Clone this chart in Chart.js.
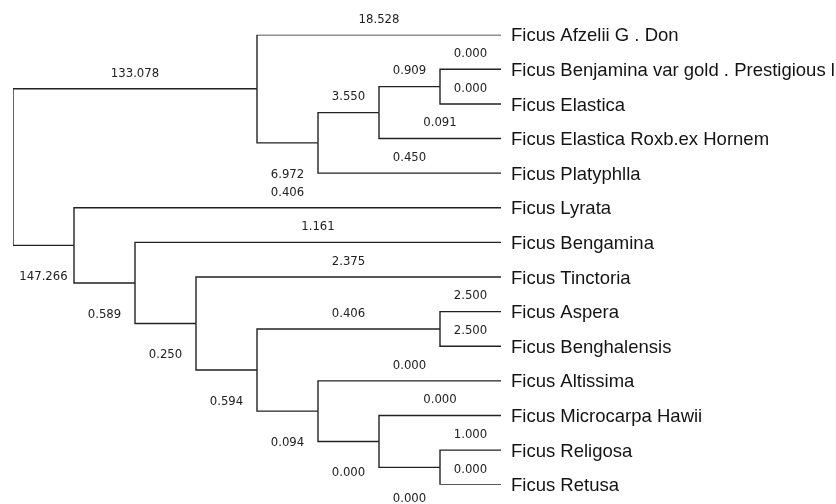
<!DOCTYPE html>
<html>
<head>
<meta charset="utf-8">
<title>Ficus dendrogram</title>
<script src="https://cdn.jsdelivr.net/npm/chart.js@4/dist/chart.umd.min.js"></script>
<style>
  html, body { margin: 0; padding: 0; background: #ffffff; }
  #wrap { width: 836px; height: 504px; position: relative; }
</style>
</head>
<body>
<div id="wrap"><canvas id="tree"></canvas></div>
<script>
// Taxa, top to bottom
const leafNames = [
  'Ficus Afzelii G . Don',
  'Ficus Benjamina var gold . Prestigious l',
  'Ficus Elastica',
  'Ficus Elastica Roxb.ex Hornem',
  'Ficus Platyphlla',
  'Ficus Lyrata',
  'Ficus Bengamina',
  'Ficus Tinctoria',
  'Ficus Aspera',
  'Ficus Benghalensis',
  'Ficus Altissima',
  'Ficus Microcarpa Hawii',
  'Ficus Religosa',
  'Ficus Retusa'
];

// Clades: each joins an upper and a lower child (leaves are 'L' + index)
const cladeIds    = ['R',  'A',  'B',  'C',  'D',  'E',  'F',  'G',  'H',  'I',  'J',   'K',   'M'];
const cladeUpper  = ['A',  'L0', 'C',  'D',  'L1', 'L5', 'L6', 'L7', 'I',  'L8', 'L10', 'L11', 'L12'];
const cladeLower  = ['E',  'B',  'L4', 'L3', 'L2', 'F',  'G',  'H',  'J',  'L9', 'K',   'M',   'L13'];

// Branch lengths leading to the upper / lower child of each clade
const upperLength = [133.078, 18.528, 3.550, 0.909, 0.000, 0.406, 1.161, 2.375, 0.406, 2.500, 0.000, 0.000, 1.000];
const lowerLength = [147.266, 6.972,  0.450, 0.091, 0.000, 0.589, 0.250, 0.594, 0.094, 2.500, 0.000, 0.000, 0.000];

// ---- layout (topology only: columns by subtree height) ----
const clades = {};
cladeIds.forEach((id, i) => { clades[id] = { up: cladeUpper[i], lo: cladeLower[i], upLen: upperLength[i], loLen: lowerLength[i] }; });

const isLeaf = id => id[0] === 'L';
function height(id) {
  if (isLeaf(id)) return 0;
  const c = clades[id];
  return 1 + Math.max(height(c.up), height(c.lo));
}
const maxCol = height('R');
function posY(id) {
  if (isLeaf(id)) return +id.slice(1);
  const c = clades[id];
  return (posY(c.up) + posY(c.lo)) / 2;
}
const posX = id => maxCol - height(id);

const LINE = '#222222';
const datasets = [];
const branchLabels = [];
cladeIds.forEach(id => {
  const c = clades[id];
  const px = posX(id), py = posY(id);
  [[c.up, c.upLen, false], [c.lo, c.loLen, true]].forEach(([child, len, lower]) => {
    const cx = posX(child), cy = posY(child);
    datasets.push({
      data: [{ x: px, y: py }, { x: px, y: cy }, { x: cx, y: cy }],
      borderColor: LINE,
      borderWidth: 1.4,
      pointRadius: 0,
      tension: 0,
      fill: false
    });
    branchLabels.push({
      text: len.toFixed(3),
      x: (px + cx) / 2,
      y: cy,
      below: lower && !isLeaf(child)
    });
  });
});

// Branch length labels drawn on the plot from the data scales
const branchLabelPlugin = {
  id: 'branchLabels',
  afterDatasetsDraw(chart) {
    const { ctx, scales } = chart;
    ctx.save();
    ctx.font = '13px "DejaVu Sans Condensed", "DejaVu Sans", sans-serif';
    ctx.fillStyle = '#222222';
    ctx.textAlign = 'center';
    ctx.textBaseline = 'middle';
    branchLabels.forEach(l => {
      const x = scales.x.getPixelForValue(l.x);
      const y = scales.y.getPixelForValue(l.y) + (l.below ? 31.5 : -15.5);
      ctx.fillText(l.text, x, y);
    });
    ctx.restore();
  }
};

const leafIndex = leafNames.map((_, i) => i);

new Chart(document.getElementById('tree'), {
  type: 'line',
  data: { datasets },
  options: {
    responsive: true,
    maintainAspectRatio: false,
    animation: false,
    events: [],
    layout: { padding: { left: 13, right: 0, top: 34.7, bottom: 19.3 } },
    plugins: { legend: { display: false }, tooltip: { enabled: false } },
    scales: {
      x: { type: 'linear', min: 0, max: maxCol, display: false },
      y: {
        type: 'linear',
        position: 'right',
        reverse: true,
        min: 0,
        max: leafNames.length - 1,
        grid: { display: false, drawTicks: false },
        border: { display: false },
        afterBuildTicks(scale) { scale.ticks = leafIndex.map(v => ({ value: v })); },
        afterFit(scale) {
          scale.width = 335;
          scale.paddingTop = 0;
          scale.paddingBottom = 0;
        },
        ticks: {
          padding: 10,
          labelOffset: 1.5,
          autoSkip: false,
          color: '#141414',
          font: { family: '"Liberation Sans", Arial, sans-serif', size: 18.5 },
          callback: v => leafNames[v]
        }
      }
    }
  },
  plugins: [branchLabelPlugin]
});
</script>
</body>
</html>
